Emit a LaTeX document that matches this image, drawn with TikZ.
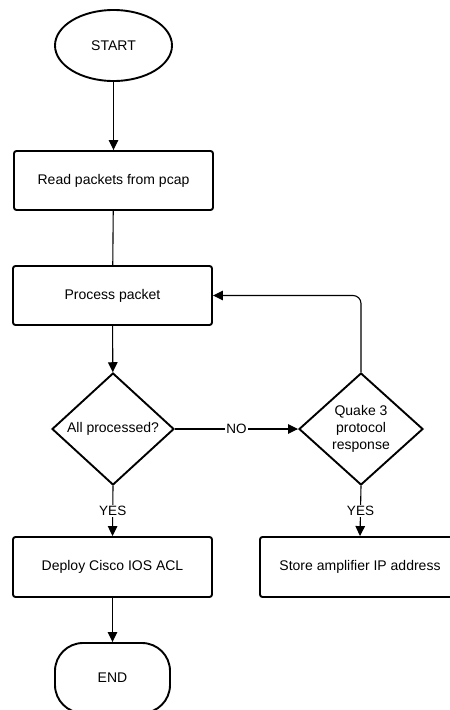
\documentclass[tikz,border=0pt]{standalone}
\usepackage{fontspec}
\setmainfont{Liberation Sans}
\usetikzlibrary{arrows.meta, positioning, shapes.geometric}

\begin{document}
\begin{tikzpicture}[x=1pt, y=-1pt,
    every node/.style={font=\fontsize{14}{17}\selectfont},
    box/.style={draw, line width=1.9pt, rounded corners=2.5pt, minimum width=199pt, minimum height=59pt, inner sep=0pt},
    oval/.style={draw, ellipse, line width=1.9pt, minimum width=117pt, minimum height=71pt, inner sep=0pt},
    terminal/.style={draw, line width=1.9pt, rounded corners=28pt, minimum width=115pt, minimum height=70pt, inner sep=0pt},
    decision/.style={draw, diamond, line width=1.9pt, inner sep=0pt, align=center, minimum height=112pt},
    flow/.style={-{Triangle[length=10pt, width=9.5pt]}, line width=1.1pt},
    lbl/.style={fill=white, inner sep=1pt, font=\fontsize{13.5}{15}\selectfont}]
    \useasboundingbox (0,0) rectangle (450,710);
    \clip (0,0) rectangle (450,710);

    \node[oval] (start) at (113.5,45.5) {START};
    \node[box] (read) at (113.5,180.5) {Read packets from pcap};
    \node[box] (proc) at (112.5,295.5) {Process packet};
    \node[decision, minimum width=122pt] (done) at (113,429) {All processed?};
    \node[decision, minimum width=124pt] (quake) at (361,429) {Quake 3\\protocol\\response};
    \node[box, minimum height=60pt] (deploy) at (112.5,567) {Deploy Cisco IOS ACL};
    \node[box, minimum height=60pt, minimum width=200pt] (store) at (360,567) {Store amplifier IP address};
    \node[terminal] (end) at (112.5,678) {END};

    \draw[flow] (start) -- (read);
    \draw[line width=1.1pt] (read) -- (proc);
    \draw[flow] (proc) -- (done);
    \draw[flow] (done) -- node[lbl] {NO} (quake);
    \draw[flow, rounded corners=8pt] (quake.north) |- (proc.east);
    \draw[flow] (done.south) -- node[lbl] {YES} (deploy.north);
    \draw[flow] (quake.south) -- node[lbl] {YES} (store.north);
    \draw[flow] (deploy) -- (end);
\end{tikzpicture}
\end{document}
